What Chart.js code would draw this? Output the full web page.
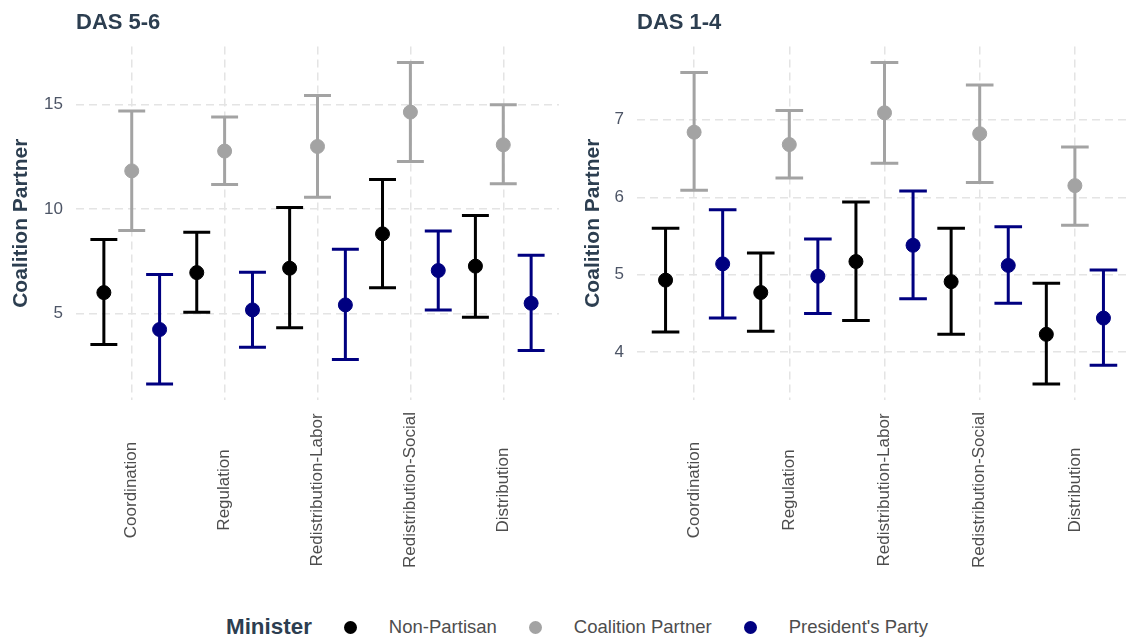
<!DOCTYPE html>
<html>
<head>
<meta charset="utf-8">
<script src="https://cdn.jsdelivr.net/npm/chart.js@4.4.1/dist/chart.umd.min.js"></script>
<style>
  html, body { margin: 0; padding: 0; background: #fff; overflow: hidden; }
  body { width: 1130px; height: 639px; position: relative; font-family: "Liberation Sans", Arial, sans-serif; }
  .panel { position: absolute; top: 0; height: 600px; }
  #left { left: 0; width: 567px; }
  #right { left: 567px; width: 573px; }
  #legend { position: absolute; top: 613px; left: 226px; height: 28px; display: flex; align-items: center; white-space: nowrap; }
  #legend b { font-size: 22.4px; color: #2c3e50; margin-right: 32px; }
  #legend i { display: inline-block; width: 13px; height: 13px; border-radius: 50%; margin-right: 32px; }
  #legend span { font-size: 18.5px; color: #4d4d4d; margin-right: 32px; }
</style>
</head>
<body>
<div class="panel" id="left"><canvas id="das56"></canvas></div>
<div class="panel" id="right"><canvas id="das14"></canvas></div>
<div id="legend"><b>Minister</b></div>
<script>
const categories = ['Coordination', 'Regulation', 'Redistribution-Labor', 'Redistribution-Social', 'Distribution'];
const seriesNames = ['Non-Partisan', 'Coalition Partner', "President's Party"];
const seriesColors = ['#000000', '#a3a3a3', '#000080'];

// DAS 5-6 estimates with lower / upper bounds
const das56NonPartisan     = [5.99, 6.95, 7.16, 8.81, 7.26];
const das56NonPartisanLow  = [3.50, 5.05, 4.31, 6.22, 4.81];
const das56NonPartisanHigh = [8.54, 8.89, 10.07, 11.42, 9.69];
const das56Coalition       = [11.83, 12.78, 13.00, 14.65, 13.08];
const das56CoalitionLow    = [8.97, 11.18, 10.57, 12.28, 11.21];
const das56CoalitionHigh   = [14.70, 14.41, 15.45, 17.03, 15.00];
const das56President       = [4.22, 5.16, 5.40, 7.05, 5.48];
const das56PresidentLow    = [1.61, 3.37, 2.78, 5.16, 3.21];
const das56PresidentHigh   = [6.86, 6.97, 8.07, 8.95, 7.78];
const das56Ticks = [5, 10, 15];

// DAS 1-4
const das14NonPartisan     = [4.93, 4.77, 5.17, 4.91, 4.23];
const das14NonPartisanLow  = [4.26, 4.27, 4.41, 4.23, 3.59];
const das14NonPartisanHigh = [5.60, 5.28, 5.94, 5.60, 4.89];
const das14Coalition       = [6.84, 6.68, 7.09, 6.82, 6.15];
const das14CoalitionLow    = [6.09, 6.25, 6.44, 6.19, 5.64];
const das14CoalitionHigh   = [7.61, 7.12, 7.74, 7.45, 6.65];
const das14President       = [5.14, 4.98, 5.38, 5.12, 4.44];
const das14PresidentLow    = [4.44, 4.50, 4.69, 4.63, 3.83];
const das14PresidentHigh   = [5.84, 5.46, 6.08, 5.62, 5.06];
const das14Ticks = [4, 5, 6, 7];

const dodge = [-0.3, 0, 0.3];
const capHalf = 0.145;

// whiskers with caps, drawn under the points
const errorBars = {
  id: 'errorBars',
  beforeDatasetsDraw(chart) {
    const { ctx, scales: { x, y } } = chart;
    ctx.save();
    ctx.lineWidth = 3;
    chart.data.datasets.forEach(ds => {
      ctx.strokeStyle = ds.borderColor;
      ds.data.forEach((p, i) => {
        const px = x.getPixelForValue(p.x);
        const l = x.getPixelForValue(p.x - capHalf), r = x.getPixelForValue(p.x + capHalf);
        const lo = y.getPixelForValue(ds.low[i]), hi = y.getPixelForValue(ds.high[i]);
        ctx.beginPath();
        ctx.moveTo(px, lo); ctx.lineTo(px, hi);
        ctx.moveTo(l, lo); ctx.lineTo(r, lo);
        ctx.moveTo(l, hi); ctx.lineTo(r, hi);
        ctx.stroke();
      });
    });
    ctx.restore();
  }
};

// vertical category names, centred under each tick
const categoryLabels = {
  id: 'categoryLabels',
  afterDraw(chart) {
    const { ctx, chartArea, scales: { x } } = chart;
    ctx.save();
    ctx.font = '17px "Liberation Sans", Arial, sans-serif';
    ctx.fillStyle = '#4d4d4d';
    ctx.textAlign = 'center';
    ctx.textBaseline = 'middle';
    x.ticks.forEach(t => {
      ctx.save();
      ctx.translate(x.getPixelForValue(t.value), chartArea.bottom + 90);
      ctx.rotate(-Math.PI / 2);
      ctx.fillText(categories[t.value], 0, 0);
      ctx.restore();
    });
    ctx.restore();
  }
};

function makePanel(id, title, est, low, high, yTicks, yWidth, titlePad, padRight) {
  const all = low.flat().concat(high.flat());
  const lo = Math.min(...all), hi = Math.max(...all);
  const pad = (hi - lo) * 0.05;
  const grid = { color: '#e4e4e4', lineWidth: 1.5, drawTicks: false };
  const border = { display: false, dash: [8, 5] };

  new Chart(document.getElementById(id), {
    type: 'scatter',
    data: {
      datasets: seriesNames.map((name, s) => ({
        label: name,
        data: est[s].map((v, i) => ({ x: i + dodge[s], y: v })),
        low: low[s],
        high: high[s],
        backgroundColor: seriesColors[s],
        borderColor: seriesColors[s],
        pointRadius: 7,
        pointHoverRadius: 7,
        borderWidth: 1
      }))
    },
    options: {
      responsive: true,
      maintainAspectRatio: false,
      animation: false,
      events: [],
      layout: { padding: { right: padRight } },
      plugins: {
        legend: { display: false },
        tooltip: { enabled: false },
        title: {
          display: true, text: title, align: 'start', fullSize: false,
          color: '#2c3e50', font: { size: 22, weight: 'bold' },
          padding: { top: 10, bottom: 10 }
        }
      },
      scales: {
        x: {
          type: 'linear', min: -0.6, max: 4.6,
          afterBuildTicks: s => { s.ticks = categories.map((_, i) => ({ value: i })); },
          afterFit: s => { s.height = 200; },
          grid, border,
          ticks: { display: false }
        },
        y: {
          min: lo - pad, max: hi + pad,
          afterBuildTicks: s => { s.ticks = yTicks.map(v => ({ value: v })); },
          afterFit: s => { s.width = yWidth; },
          grid, border,
          ticks: { padding: 13, color: '#4d5566', font: { size: 17 } },
          title: {
            display: true, text: 'Coalition Partner', color: '#2c3e50',
            font: { size: 21, weight: 'bold' }, padding: { top: titlePad, bottom: 0 }
          }
        }
      }
    },
    plugins: [errorBars, categoryLabels]
  });
}

Chart.defaults.font.family = '"Liberation Sans", Arial, sans-serif';

makePanel('das56', 'DAS 5-6',
  [das56NonPartisan, das56Coalition, das56President],
  [das56NonPartisanLow, das56CoalitionLow, das56PresidentLow],
  [das56NonPartisanHigh, das56CoalitionHigh, das56PresidentHigh],
  das56Ticks, 76, 9, 1);

makePanel('das14', 'DAS 1-4',
  [das14NonPartisan, das14Coalition, das14President],
  [das14NonPartisanLow, das14CoalitionLow, das14PresidentLow],
  [das14NonPartisanHigh, das14CoalitionHigh, das14PresidentHigh],
  das14Ticks, 70, 14, 3);

const legend = document.getElementById('legend');
seriesNames.forEach((name, i) => {
  legend.insertAdjacentHTML('beforeend', `<i style="background:${seriesColors[i]}"></i><span>${name}</span>`);
});
</script>
</body>
</html>
